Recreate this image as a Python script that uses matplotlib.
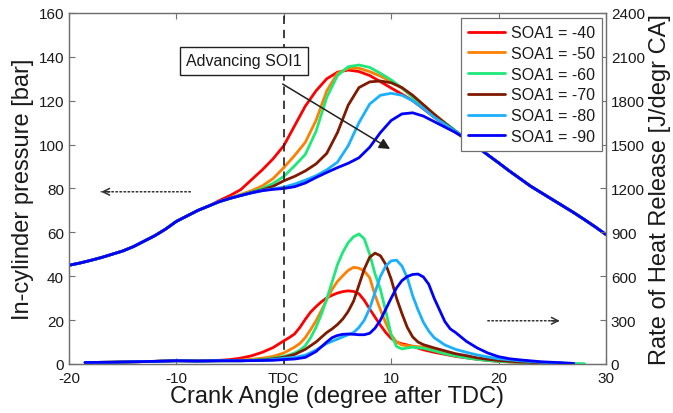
import matplotlib
matplotlib.use("Agg")
import matplotlib.pyplot as plt

plt.rcParams['font.family'] = ['Liberation Sans', 'DejaVu Sans']

# ---------------- data ----------------
angle_p = list(range(-20, 31))
x_ticks = [-20, -10, 0, 10, 20, 30]
x_ticklabels = ['-20', '-10', 'TDC', '10', '20', '30']
labels = ['SOA1 = -40', 'SOA1 = -50', 'SOA1 = -60', 'SOA1 = -70', 'SOA1 = -80', 'SOA1 = -90']
colors = ['#ff0000', '#ff8000', '#1ee87a', '#7f1a00', '#1ab0ff', '#0000ff']

p_m40 = [45, 46, 47.2, 48.5, 50, 51.5, 53.5, 56, 58.5, 61.5, 65, 67.5, 70, 72,
         74.5, 76.8, 79.5, 84, 88.5, 93.5, 99.5,
         108.5, 117.5, 124.5, 130, 133, 134, 133.3, 131.5, 128.7, 125.8, 123, 120, 116.3, 112.5, 109, 105.5,
         102.5, 99, 95.3, 91.7, 88, 84.5, 81, 78, 75, 72, 69, 65.8, 62.5, 59]
p_m50 = [45, 46, 47.2, 48.5, 50, 51.5, 53.5, 56, 58.5, 61.5, 65, 67.5, 70, 72,
         74, 75.7, 77.3, 79, 81.2, 84.5, 89.5,
         95, 101, 111, 124.5, 132.5, 134.8, 134.8, 133.3, 131.2, 128.8, 125.7, 122, 118, 114, 110, 106.2,
         102.5, 99, 95.3, 91.7, 88, 84.5, 81, 78, 75, 72, 69, 65.8, 62.5, 59]
p_m60 = [45, 46, 47.2, 48.5, 50, 51.5, 53.5, 56, 58.5, 61.5, 65, 67.5, 70, 72,
         74, 75.5, 77, 78.4, 80, 82.3, 85.5,
         90.3, 95.5, 106, 121.5, 131.5, 135.5, 136.3, 135.2, 132.5, 129.5, 125.8, 121.5, 117.3, 113.5, 110, 106.3,
         102.5, 99, 95.3, 91.7, 88, 84.5, 81, 78, 75, 72, 69, 65.8, 62.5, 59]
p_m70 = [45, 46, 47.2, 48.5, 50, 51.5, 53.5, 56, 58.5, 61.5, 65, 67.5, 70, 72,
         74, 75.5, 76.8, 78.2, 79.4, 81, 83.5,
         85.5, 88, 91.2, 96, 105.5, 118, 126, 128.6, 129, 128.2, 126, 122.5, 118.2, 113.8, 109.8, 106,
         102.5, 99, 95.3, 91.7, 88, 84.5, 81, 78, 75, 72, 69, 65.8, 62.5, 59]
p_m80 = [45, 46, 47.2, 48.5, 50, 51.5, 53.5, 56, 58.5, 61.5, 65, 67.5, 70, 72,
         74, 75.5, 76.8, 78, 79.1, 79.8, 80.6,
         82, 83.8, 85.8, 88.5, 92, 99.5, 110, 118.5, 122.5, 123.4, 122.5, 120, 116.5, 112.5, 109.3, 106,
         102.5, 99, 95.3, 91.7, 88, 84.5, 81, 78, 75, 72, 69, 65.8, 62.5, 59]
p_m90 = [45, 46, 47.2, 48.5, 50, 51.5, 53.5, 56, 58.5, 61.5, 65, 67.5, 70, 72,
         74, 75.5, 76.8, 78, 79, 79.6, 80,
         80.8, 82.5, 85, 87.3, 89.5, 91.5, 94, 98.8, 105.5, 111, 114, 114.5, 113, 110.5, 108, 105.5,
         102.5, 99, 95.3, 91.7, 88, 84.5, 81, 78, 75, 72, 69, 65.8, 62.5, 59]

a_m40 = [-18.5, -16, -14, -12, -10, -8, -6, -5, -4, -3, -2, -1, -0.5, 0, 0.5, 1, 1.5, 2, 2.5, 3,
         3.5, 4, 4.5, 5, 5.5, 6, 6.5, 7, 7.5, 8, 8.5, 9, 9.5, 10, 10.5, 11, 11.5, 12, 13, 14,
         15, 16, 17, 18, 19, 20, 22, 24]
h_m40 = [10, 12, 15, 18, 25, 22, 25, 30, 40, 56, 80, 112, 135, 158, 180, 205, 250, 305, 355, 392,
         425, 452, 470, 485, 495, 500, 496, 480, 435, 376, 320, 265, 215, 175, 150, 138, 130, 120, 97, 80,
         66, 52, 42, 32, 24, 18, 10, 5]
a_m50 = [-18.5, -16, -14, -12, -10, -8, -6, -4, -3, -2, -1, 0, 0.5, 1, 1.5, 2, 2.5, 3, 3.5, 4,
         4.5, 5, 5.5, 6, 6.5, 7, 7.5, 8, 8.5, 9, 9.5, 10, 10.5, 11, 11.5, 12, 13, 14, 15, 16,
         17, 18, 19, 20, 22, 24]
h_m50 = [10, 12, 15, 18, 22, 20, 22, 26, 32, 40, 52, 75, 95, 115, 140, 180, 235, 295, 365, 440,
         510, 565, 604, 640, 661, 655, 635, 590, 470, 370, 280, 200, 150, 130, 125, 122, 115, 105, 80, 65,
         50, 38, 28, 20, 12, 5]
a_m60 = [-18.5, -16, -14, -12, -10, -8, -6, -4, -3, -2, -1, 0, 0.5, 1, 1.5, 2, 2.5, 3, 3.5, 4,
         4.5, 5, 5.5, 6, 6.5, 7, 7.5, 8, 8.5, 9, 9.5, 10, 10.5, 11, 11.5, 12, 13, 14, 15, 16,
         17, 18, 19, 20, 22, 24, 26, 28]
h_m60 = [10, 12, 15, 18, 22, 20, 22, 22, 26, 32, 40, 52, 62, 75, 95, 125, 180, 250, 340, 445,
         560, 680, 764, 830, 870, 889, 855, 750, 615, 510, 360, 200, 120, 103, 110, 115, 108, 90, 70, 55,
         42, 32, 24, 18, 12, 8, 5, 2]
a_m70 = [-18.5, -16, -14, -12, -10, -8, -6, -4, -3, -2, -1, 0, 1, 2, 3, 4, 4.5, 5, 5.5, 6,
         6.5, 7, 7.5, 8, 8.5, 9, 9.5, 10, 10.5, 11, 11.5, 12, 12.5, 13, 14, 15, 16, 17, 18, 19,
         20, 22, 24, 26]
h_m70 = [10, 12, 15, 18, 22, 20, 22, 22, 24, 28, 35, 46, 65, 100, 150, 215, 240, 270, 308, 360,
         430, 540, 650, 730, 758, 740, 680, 580, 450, 345, 250, 185, 150, 132, 110, 90, 70, 57, 42, 32,
         24, 14, 8, 4]
a_m80 = [-18.5, -16, -14, -12, -10, -8, -6, -4, -2, -1, 0, 1, 2, 3, 4, 5, 5.5, 6, 6.5, 7,
         7.5, 8, 8.5, 9, 9.5, 10, 10.5, 11, 11.5, 12, 12.5, 13, 13.5, 14, 15, 16, 17, 18, 19, 20,
         22, 24, 26]
h_m80 = [10, 12, 15, 18, 22, 20, 22, 22, 25, 30, 39, 45, 60, 95, 140, 170, 185, 200, 215, 250,
         300, 380, 490, 600, 670, 705, 710, 670, 590, 467, 370, 285, 225, 180, 130, 100, 80, 62, 48, 36,
         22, 12, 6]
a_m90 = [-18.5, -16, -14, -12, -10, -8, -6, -4, -2, -1, 0, 1, 2, 3, 4, 4.5, 5, 5.5, 6, 6.5,
         7, 7.5, 8, 8.5, 9, 9.5, 10, 10.5, 11, 11.5, 12, 12.5, 13, 13.5, 14, 14.5, 15, 15.5, 16, 17,
         18, 19, 20, 21, 22, 24, 26, 27]
h_m90 = [10, 12, 15, 18, 22, 20, 22, 22, 24, 25, 30, 34, 45, 85, 150, 180, 195, 203, 205, 203,
         200, 200, 210, 245, 300, 375, 450, 520, 570, 598, 612, 615, 595, 545, 450, 370, 290, 240, 215, 155,
         110, 75, 50, 36, 28, 15, 8, 4]

pressures = [p_m40, p_m50, p_m60, p_m70, p_m80, p_m90]
hrr_angles = [a_m40, a_m50, a_m60, a_m70, a_m80, a_m90]
hrr_values = [h_m40, h_m50, h_m60, h_m70, h_m80, h_m90]

# ---------------- figure ----------------
fig = plt.figure(figsize=(6.73, 4.14), dpi=100)
ax = fig.add_axes([0.1025, 0.1184, 0.7979, 0.8478])
ax2 = ax.twinx()

spine_c = '#707070'
txt_c = '#1a1a1a'
lw = 2.0
handles = []
for p, c, lab in zip(pressures, colors, labels):
    h, = ax.plot(angle_p, p, color=c, lw=lw, label=lab, solid_capstyle='round', solid_joinstyle='round')
    handles.append(h)
for a, v, c in zip(hrr_angles, hrr_values, colors):
    ax2.plot(a, v, color=c, lw=lw, solid_capstyle='round', solid_joinstyle='round')

ax.axvline(0, color='#202020', ls=(0, (5, 3.5)), lw=1.2)

ax.set_xlim(-20, 30)
ax.set_ylim(0, 160)
ax2.set_ylim(0, 2400)
ax.set_xticks(x_ticks)
ax.set_xticklabels(x_ticklabels)
ax.set_yticks(range(0, 161, 20))
ax2.set_yticks(range(0, 2401, 300))

ax.tick_params(axis='x', direction='in', top=True, length=4, labelsize=11, colors=spine_c, labelcolor=txt_c, pad=5)
ax.tick_params(axis='y', direction='in', right=False, length=4, labelsize=11, colors=spine_c, labelcolor=txt_c)
ax2.tick_params(axis='y', direction='in', length=4, labelsize=11, colors=spine_c, labelcolor=txt_c)
for a_ in (ax, ax2):
    for s in a_.spines.values():
        s.set_color(spine_c)
        s.set_linewidth(0.9)

ax.set_xlabel('Crank Angle (degree after TDC)', fontsize=17, color=txt_c, labelpad=0)
ax.set_ylabel('In-cylinder pressure [bar]', fontsize=17, color=txt_c, labelpad=3)
ax2.set_ylabel('Rate of Heat Release [J/degr CA]', fontsize=17, color=txt_c, labelpad=3)

leg = ax2.legend(handles=handles, loc='upper right', bbox_to_anchor=(0.993, 0.986),
                 borderaxespad=0, fontsize=11.5, frameon=True, fancybox=False,
                 handlelength=2.3, handletextpad=0.4, labelspacing=0.36, borderpad=0.45)
leg.get_frame().set_edgecolor(spine_c)
leg.get_frame().set_linewidth(0.9)
leg.get_frame().set_alpha(1)
for t in leg.get_texts():
    t.set_color(txt_c)

# annotations
ax2.annotate('Advancing SOI1', xy=(-3.7, 138.2 * 15), ha='center', va='center', fontsize=11.5,
             color=txt_c,
             bbox=dict(boxstyle='square,pad=0.4', fc='white', ec='#202020', lw=1.0))
ax2.annotate('', xy=(9.9, 98 * 15), xytext=(-0.1, 127.6 * 15),
             arrowprops=dict(arrowstyle='-|>', color='#202020', lw=1.1, mutation_scale=16,
                             shrinkA=0, shrinkB=0))
# dotted arrows
ax.annotate('', xy=(-17.0, 78.5), xytext=(-8.7, 78.5),
            arrowprops=dict(arrowstyle='-', ls=':', color='#303030', lw=1.1, shrinkA=0, shrinkB=0))
ax.annotate('', xy=(-17.0, 78.5), xytext=(-16.2, 78.5),
            arrowprops=dict(arrowstyle='->', color='#303030', lw=1.1, shrinkA=0, shrinkB=0,
                            mutation_scale=12))
ax.annotate('', xy=(25.7, 19.7), xytext=(19.0, 19.7),
            arrowprops=dict(arrowstyle='-', ls=':', color='#303030', lw=1.1, shrinkA=0, shrinkB=0))
ax.annotate('', xy=(25.7, 19.7), xytext=(24.9, 19.7),
            arrowprops=dict(arrowstyle='->', color='#303030', lw=1.1, shrinkA=0, shrinkB=0,
                            mutation_scale=12))

fig.savefig('out.png', dpi=100)
